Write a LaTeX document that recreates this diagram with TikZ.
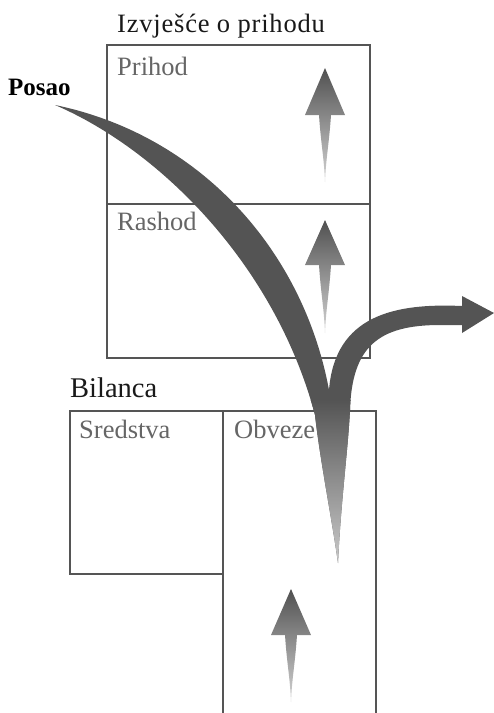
\documentclass[tikz,border=0pt]{standalone}
\usepackage{fontspec}
\setmainfont{Liberation Serif}
\definecolor{boxline}{HTML}{555555}
\definecolor{flow}{HTML}{545454}
\definecolor{labgray}{HTML}{666666}
\definecolor{arrdark}{HTML}{505050}
\definecolor{arrlight}{HTML}{D4D4D4}
\newcommand\gradarrow[4]{%
  \shade[top color=arrdark, middle color=arrdark!80!arrlight, bottom color=arrlight]
    (#1,#2) -- (#1+20,#3) -- (#1+6,#3) .. controls (#1+4,#3+30) and (#1+1,#4-25) .. (#1,#4)
    .. controls (#1-1,#4-25) and (#1-4,#3+30) .. (#1-6,#3) -- (#1-20,#3) -- cycle;}
\begin{document}
\begin{tikzpicture}[x=1pt,y=-1pt,
  frame/.style={draw=boxline, line width=1.6pt},
  title/.style={anchor=base west, inner sep=0pt, text=black!90},
  lab/.style={anchor=base west, inner sep=0pt, text=labgray, font=\fontsize{26.5}{30}\selectfont}]
\useasboundingbox (0,0) rectangle (494,713);
% boxes
\draw[frame] (107,45) rectangle (370,358);
\draw[frame] (107,204) -- (370,204);
\draw[frame] (70,411) rectangle (223,574);
\draw[frame] (223,713) -- (223,411) -- (376,411) -- (376,713);
% texts
\node[title, font=\fontsize{26.5}{30}\selectfont\addfontfeatures{LetterSpace=3}] (t1) at (117,32) {Izvješće o prihodu};
\node[lab] (prihod) at (117,75) {Prihod};
\node[lab] (rashod) at (117,230) {Rashod};
\node[title, font=\fontsize{25}{30}\selectfont\bfseries, text=black] (posao) at (8,95) {Posao};
\node[title, font=\fontsize{28.5}{32}\selectfont] (bil) at (70,397) {Bilanca};
\node[lab] (sred) at (79,438) {Sredstva};
\node[lab] (obv) at (234,438) {Obveze};
% small up arrows
\gradarrow{325}{68}{115}{182}
\gradarrow{325}{220}{265}{333}
\gradarrow{291}{589}{635}{702}
% big flow arrow
\def\flowpath{(55,105) .. controls (200,135) and (303,250) .. (329,390)
  .. controls (335,315) and (395,303) .. (462,306)
  -- (462,296) -- (494,313) -- (462,333) -- (462,325)
  -- (440,325) .. controls (378,325) and (352,347) .. (350,410)
  .. controls (348,450) and (341,500) .. (338,563)
  .. controls (332,520) and (320,460) .. (315,415)
  .. controls (275,265) and (160,150) .. (55,105) -- cycle}
\fill[flow] \flowpath;
\begin{scope}
  \clip \flowpath;
  \shade[top color=flow, middle color=flow!75, bottom color=flow!30] (300,400) rectangle (360,566);
\end{scope}
\end{tikzpicture}
\end{document}
